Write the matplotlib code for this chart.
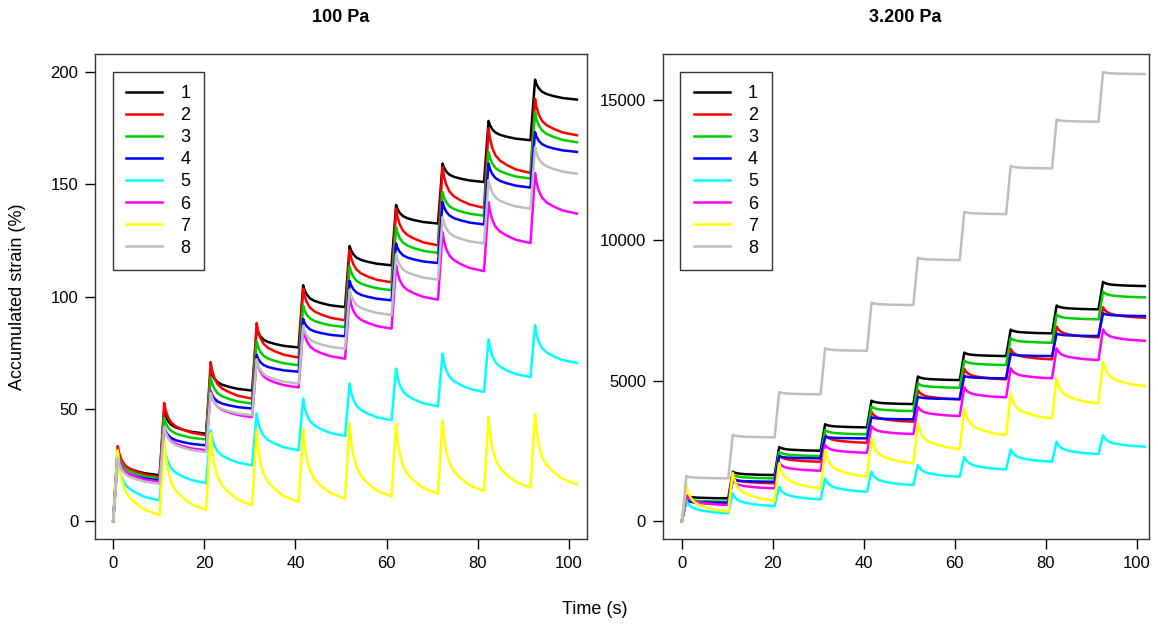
import matplotlib
matplotlib.use("Agg")
import matplotlib.pyplot as plt
from matplotlib import font_manager

# font: narrow Arial-like if available
names = {f.name for f in font_manager.fontManager.ttflist}
FONT = "Liberation Sans Narrow" if "Liberation Sans Narrow" in names else "Liberation Sans"
plt.rcParams["font.family"] = [FONT, "DejaVu Sans"]

labels = ["1", "2", "3", "4", "5", "6", "7", "8"]
colors = ["#000000", "#FF0000", "#00CD00", "#0000FF", "#00FFFF", "#FF00FF", "#FFFF00", "#BEBEBE"]

# cycle timing (s)
cycle_starts = [0, 10.2, 20.4, 30.5, 40.7, 50.9, 61.1, 71.3, 81.4, 91.6]
t_end = 101.8
load_time = 1.0

# shared recovery shape: fraction recovered vs time after peak
rec_tau = [0, 0.3, 0.8, 1.5, 2.5, 4.0, 6.0, 9.2]
rec_frac = [0, 0.22, 0.43, 0.60, 0.72, 0.82, 0.92, 1.0]

# 100 Pa: peak and end-of-recovery strain per cycle
peaks_100 = [
    [31, 49, 67.5, 86, 105, 122.5, 140.8, 159.2, 178.2, 196.6],
    [33.4, 52.6, 70.8, 88.2, 103.5, 120.6, 139.1, 157.7, 174.8, 188.1],
    [31, 46, 64, 80, 96, 113.4, 131, 146.5, 164.4, 182.1],
    [28, 42, 58, 74, 90, 107, 123.6, 142.1, 159.2, 173.2],
    [28, 33.7, 40.4, 47.8, 54.5, 61.2, 67.9, 74.6, 80.8, 87.2],
    [30, 42, 58, 72, 86, 99.8, 113.9, 128.7, 142.1, 155],
    [31.5, 35.9, 38.9, 40.4, 41.1, 43.4, 43.4, 44.9, 46.3, 47.6],
    [28, 42, 57, 72, 87, 103, 119, 135.4, 151.8, 166.5],
]
ends_100 = [
    [20.4, 38.9, 58.1, 77.3, 95.3, 113.9, 132.5, 151, 169.6, 187.7],
    [19.6, 38.2, 54.5, 72.8, 89.4, 106.3, 122.8, 139.5, 155, 171.8],
    [18.9, 36.3, 52.3, 69.4, 86.4, 102.8, 119.4, 136, 152.5, 168.7],
    [18.1, 33.7, 50.1, 66.5, 82.3, 98.3, 114.9, 132.1, 148.5, 164.4],
    [9.2, 16.9, 24.8, 31.5, 37.9, 44.9, 51.1, 57.5, 64.1, 70.4],
    [17.4, 31.5, 46.3, 59.5, 72.3, 85.7, 98.6, 111.3, 123.8, 136.9],
    [2.7, 5, 7, 8.5, 10, 11, 12.2, 13.4, 14.9, 16.3],
    [16.6, 30.7, 47.1, 61.2, 76.8, 91.8, 107.5, 123.6, 139.1, 154.7],
]

# 3.200 Pa
peaks_3200 = [
    [900, 1760, 2640, 3450, 4290, 5150, 6000, 6820, 7680, 8520],
    [760, 1550, 2350, 3080, 3890, 4660, 5420, 6130, 6930, 7620],
    [790, 1650, 2460, 3240, 4080, 4900, 5720, 6520, 7350, 8170],
    [720, 1480, 2310, 3000, 3700, 4430, 5170, 5950, 6680, 7400],
    [748, 986, 1222, 1521, 1758, 1995, 2291, 2554, 2825, 3064],
    [926, 1461, 2077, 2708, 3384, 4072, 4763, 5440, 6152, 6829],
    [1282, 1722, 2055, 2530, 2950, 3480, 4015, 4549, 5084, 5675],
    [1600, 3070, 4600, 6150, 7780, 9380, 11020, 12650, 14310, 16000],
]
ends_3200 = [
    [808, 1639, 2505, 3338, 4168, 5023, 5878, 6687, 7542, 8372],
    [606, 1343, 2113, 2790, 3538, 4336, 5048, 5761, 6544, 7243],
    [688, 1521, 2316, 3089, 3919, 4749, 5558, 6352, 7186, 7969],
    [652, 1400, 2234, 2946, 3623, 4346, 5084, 5878, 6591, 7303],
    [274, 534, 772, 1045, 1282, 1580, 1841, 2113, 2387, 2648],
    [570, 1165, 1792, 2433, 3099, 3741, 4407, 5084, 5736, 6423],
    [332, 723, 1165, 1580, 2055, 2565, 3064, 3659, 4193, 4809],
    [1521, 2982, 4514, 6067, 7695, 9298, 10937, 12565, 14226, 15925],
]


def build_curve(peaks, ends):
    # start at 0, then per cycle: linear loading to the peak, recovery towards the end value
    ts, ys = [0.0], [0.0]
    for k, t0 in enumerate(cycle_starts):
        t_next = cycle_starts[k + 1] if k + 1 < len(cycle_starts) else t_end
        tp = t0 + load_time
        for tau, fr in zip(rec_tau, rec_frac):
            ts.append(min(tp + tau, t_next))
            ys.append(peaks[k] - fr * (peaks[k] - ends[k]))
    return ts, ys


fig = plt.figure(figsize=(11.58, 6.28), dpi=100)
ax1 = fig.add_axes([0.0820, 0.1417, 0.4249, 0.7723])
ax2 = fig.add_axes([0.5723, 0.1417, 0.4199, 0.7723])

panels = [
    (ax1, peaks_100, ends_100, (-4.0, 104.0), (-8, 208), [0, 50, 100, 150, 200]),
    (ax2, peaks_3200, ends_3200, (-4.2, 102.7), (-640, 16640), [0, 5000, 10000, 15000]),
]

for ax, pk, en, xl, yl, yt in panels:
    for i in range(len(labels)):
        t, y = build_curve(pk[i], en[i])
        ax.plot(t, y, color=colors[i], lw=1.8, label=labels[i])
    ax.set_xlim(*xl)
    ax.set_ylim(*yl)
    ax.set_xticks([0, 20, 40, 60, 80, 100])
    ax.set_yticks(yt)
    ax.tick_params(direction="out", length=7, width=1, labelsize=12, pad=5)
    for s in ax.spines.values():
        s.set_linewidth(1.0)
        s.set_color("#333333")
    leg = ax.legend(loc="upper left", bbox_to_anchor=(0.036, 0.9635), borderaxespad=0,
                    fancybox=False, edgecolor="#333333", framealpha=1, fontsize=13,
                    handlelength=2.0, handletextpad=1.0, labelspacing=0.28, borderpad=0.75)
    leg.get_frame().set_linewidth(1.0)

fig.text(341 / 1158, 1 - 18 / 628, "100 Pa", ha="center", va="center", fontsize=13, fontweight="bold")
fig.text(905 / 1158, 1 - 18 / 628, "3.200 Pa", ha="center", va="center", fontsize=13, fontweight="bold")
fig.text(18 / 1158, 1 - 297 / 628, "Accumulated strain (%)", rotation=90,
         ha="center", va="center", fontsize=13)
fig.text(595 / 1158, 1 - 610 / 628, "Time (s)", ha="center", va="center", fontsize=13)

fig.savefig("out.png", dpi=100)
